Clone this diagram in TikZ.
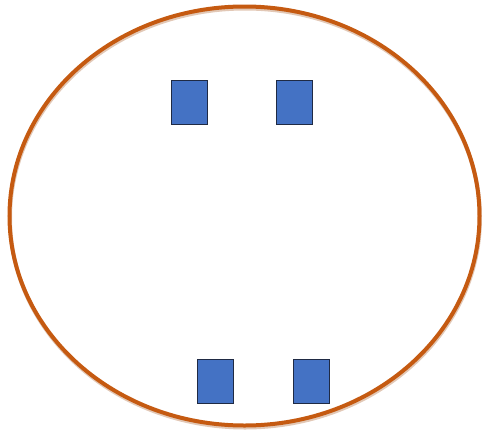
\documentclass[tikz,border=0pt]{standalone}
\definecolor{ringc}{HTML}{C55A11}
\definecolor{shadowc}{HTML}{E2C8B6}
\definecolor{boxfill}{HTML}{4472C4}
\definecolor{boxedge}{HTML}{1F2A44}
\begin{document}
\begin{tikzpicture}[x=1pt,y=-1pt,
  blk/.style={draw=boxedge,fill=boxfill,line width=1pt,minimum width=36pt,minimum height=44pt,inner sep=0pt,anchor=north west}]
\useasboundingbox (0,0) rectangle (482,434);
\draw[shadowc,line width=4pt] (245,218) ellipse [x radius=235, y radius=209.5];
\draw[ringc,line width=4pt] (244.5,216) ellipse [x radius=235, y radius=209.5];
\node[blk] (a) at (171,80) {};
\node[blk] (b) at (276,80) {};
\node[blk] (c) at (197,359) {};
\node[blk] (d) at (293,359) {};
\end{tikzpicture}
\end{document}
